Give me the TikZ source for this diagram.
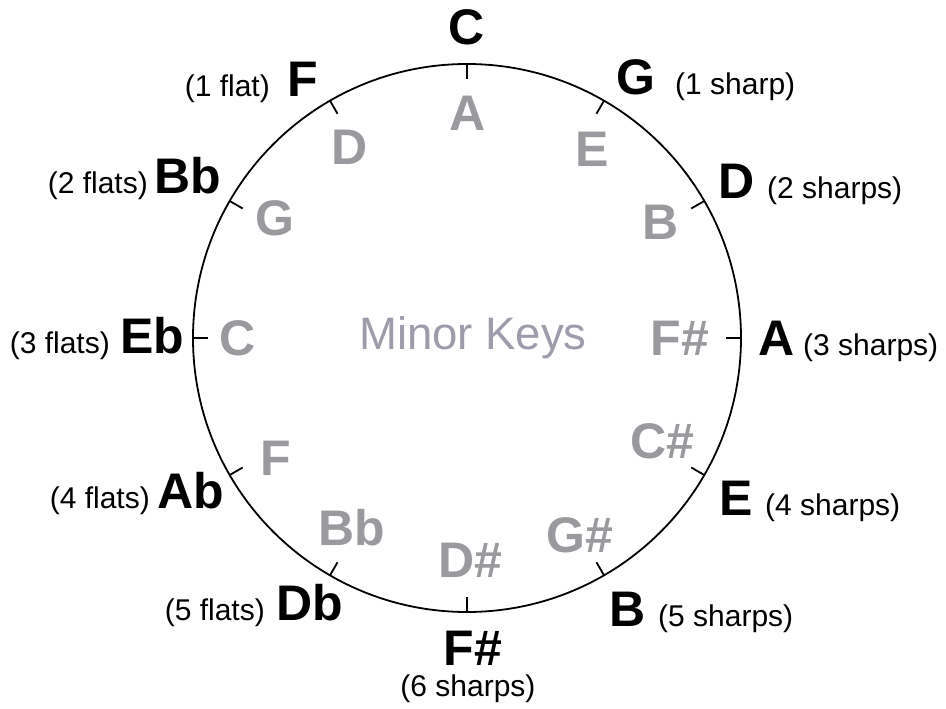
\documentclass[tikz,border=0pt]{standalone}
\usepackage{fontspec}
\usetikzlibrary{calc}
\setmainfont{Liberation Sans}
\definecolor{minorgray}{RGB}{154,154,158}
\definecolor{titlegray}{RGB}{156,156,170}
\begin{document}
\begin{tikzpicture}[x=1pt,y=-1pt,
  major/.style={font=\fontsize{50}{50}\selectfont\bfseries, inner sep=0, anchor=base},
  minorkey/.style={font=\fontsize{50}{50}\selectfont\bfseries, text=minorgray, inner sep=0},
  note/.style={font=\fontsize{30}{30}\selectfont, inner sep=0},
  ring/.style={line width=1.8pt, black},
  ]
\useasboundingbox (0,0) rectangle (946,709);
\coordinate (O) at (467,338);
\draw[ring] (O) circle[radius=274];
\foreach \a in {0,30,...,330}
  \draw[ring] ($(O)+(\a:274)$) -- ($(O)+(\a:259)$);

% major keys
\node[major] (C) at (467,45) {C};
\node[major] (G) at (636,95) {G};
\node[note, anchor=base west] (Gn) at (675,95) {(1 sharp)};
\node[major] (D) at (737,198) {D};
\node[note, anchor=base west] (Dn) at (767,198) {(2 sharps)};
\node[major] (A) at (777,355) {A};
\node[note, anchor=base west] (An) at (803,355) {(3 sharps)};
\node[major] (E) at (736,515) {E};
\node[note, anchor=base west] (En) at (765,515) {(4 sharps)};
\node[major] (B) at (628,626) {B};
\node[note, anchor=base west] (Bn) at (658,626) {(5 sharps)};
\node[major] (Fs) at (473,665) {F\#};
\node[note, anchor=base] (Fsn) at (468,696) {(6 sharps)};
\node[major] (Db) at (310,620) {Db};
\node[note, anchor=base east] (Dbn) at (265,620) {(5 flats)};
\node[major] (Ab) at (191,508) {Ab};
\node[note, anchor=base east] (Abn) at (150,508) {(4 flats)};
\node[major] (Eb) at (152,353) {Eb};
\node[note, anchor=base east] (Ebn) at (110,353) {(3 flats)};
\node[major] (Bb) at (188,193) {Bb};
\node[note, anchor=base east] (Bbn) at (148,193) {(2 flats)};
\node[major] (F) at (303,97) {F};
\node[note, anchor=base east] (Fn) at (270,97) {(1 flat)};

% minor keys
\node[minorkey] (ma) at (468,113) {A};
\node[minorkey] (me) at (592,149) {E};
\node[minorkey] (mb) at (661,222) {B};
\node[minorkey] (mfs) at (680,338) {F\#};
\node[minorkey] (mcs) at (662,441) {C\#};
\node[minorkey] (mgs) at (580,535) {G\#};
\node[minorkey] (mds) at (470,560) {D\#};
\node[minorkey] (mbb) at (352,528) {Bb};
\node[minorkey] (mf) at (276,458) {F};
\node[minorkey] (mc) at (238,338) {C};
\node[minorkey] (mg) at (275,218) {G};
\node[minorkey] (md) at (350,147) {D};

\node[font=\fontsize{45.5}{45}\selectfont, text=titlegray, inner sep=0] (title) at (473,338) {Minor Keys};
\end{tikzpicture}
\end{document}
